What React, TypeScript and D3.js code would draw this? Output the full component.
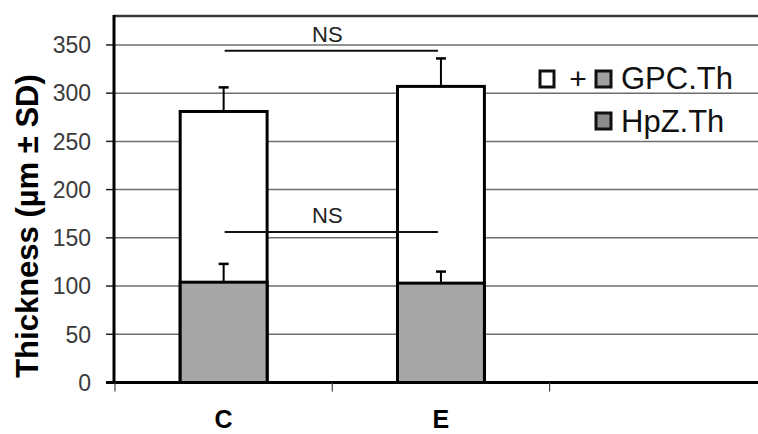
import React from "react";
import * as d3 from "d3";

// chart values
const categories = ["C", "E", ""];
const totalMean = [281, 307]; // white bar: GPC.Th (HpZ + rest)
const totalSD = [25, 29];
const hpzMean = [104, 103];
const hpzSD = [19, 12];
const yTicks = [0, 50, 100, 150, 200, 250, 300, 350];
const nsLevels = [344, 156];
const legendLabels = ["GPC.Th", "HpZ.Th"];

const width = 758;
const height = 434;
const plotLeft = 114;
const plotTop = 16;
const plotBottom = 382.5;

const App = () => {
  const x = d3
    .scaleBand<string>()
    .domain(categories)
    .range([plotLeft + 1, plotLeft + 1 + 217.3 * categories.length]);
  const y = d3.scaleLinear().domain([0, 380]).range([plotBottom, plotTop]);

  const barW = x.bandwidth() * 0.4;
  const cx = (c: string) => (x(c) as number) + x.bandwidth() / 2;
  const used = categories.slice(0, totalMean.length);

  const errBar = (c: string, m: number, sd: number, key: string) => (
    <g key={key} stroke="#000" strokeWidth={2}>
      <line x1={cx(c)} x2={cx(c)} y1={y(m)} y2={y(m + sd)} />
      <line x1={cx(c) - 5} x2={cx(c) + 5} y1={y(m + sd)} y2={y(m + sd)} strokeWidth={2.5} />
    </g>
  );

  const font = "Arial, 'Liberation Sans', sans-serif";

  return (
    <div style={{ position: "absolute", left: 0, top: 0 }}>
      <svg width={width} height={height} style={{ display: "block", background: "#fff" }}>
        {/* gridlines */}
        {yTicks.map((t) =>
          t === 0 ? null : (
            <line key={t} x1={plotLeft} x2={width} y1={y(t)} y2={y(t)} stroke="#6e6e6e" strokeWidth={1.5} />
          )
        )}
        {/* top border */}
        <line x1={plotLeft} x2={width} y1={plotTop} y2={plotTop} stroke="#3a3a3a" strokeWidth={2.5} />

        {/* y ticks and labels */}
        {yTicks.map((t) => (
          <g key={"yt" + t}>
            <line x1={plotLeft - 8} x2={plotLeft} y1={y(t)} y2={y(t)} stroke="#222" strokeWidth={1.5} />
            <text
              x={91}
              y={y(t)}
              dy="0.36em"
              textAnchor="end"
              fontFamily={font}
              fontSize={23}
              fill="#3a3a3a"
            >
              {t}
            </text>
          </g>
        ))}

        {/* bars */}
        {used.map((c, i) => (
          <rect
            key={"tot" + c}
            x={cx(c) - barW / 2}
            width={barW}
            y={y(totalMean[i])}
            height={y(0) - y(totalMean[i])}
            fill="#fff"
            stroke="#000"
            strokeWidth={3}
          />
        ))}
        {used.map((c, i) => (
          <rect
            key={"hpz" + c}
            x={cx(c) - barW / 2}
            width={barW}
            y={y(hpzMean[i])}
            height={y(0) - y(hpzMean[i])}
            fill="#a6a6a6"
            stroke="#000"
            strokeWidth={3}
          />
        ))}
        {used.map((c, i) => errBar(c, totalMean[i], totalSD[i], "et" + c))}
        {used.map((c, i) => errBar(c, hpzMean[i], hpzSD[i], "eh" + c))}

        {/* NS comparisons */}
        {nsLevels.map((v, i) => {
          const x1 = cx(used[0]) + 1;
          const x2 = cx(used[1]) - 3;
          return (
            <g key={"ns" + i}>
              <line x1={x1} x2={x2} y1={y(v)} y2={y(v)} stroke="#111" strokeWidth={2} />
              <text
                x={(x1 + x2) / 2 - 4}
                y={y(v) - 9}
                textAnchor="middle"
                fontFamily={font}
                fontSize={22}
                fill="#222"
              >
                NS
              </text>
            </g>
          );
        })}

        {/* axes */}
        <line x1={plotLeft} x2={plotLeft} y1={plotTop - 1} y2={plotBottom + 1.5} stroke="#000" strokeWidth={3} />
        <line x1={plotLeft - 8} x2={width} y1={plotBottom} y2={plotBottom} stroke="#000" strokeWidth={3} />
        {categories.map((c) => (
          <line
            key={"xt" + c}
            x1={x(c) as number}
            x2={x(c) as number}
            y1={plotBottom}
            y2={plotBottom + 9}
            stroke="#444"
            strokeWidth={1.2}
          />
        ))}
        {used.map((c) => (
          <text
            key={"xl" + c}
            x={cx(c)}
            y={428}
            textAnchor="middle"
            fontFamily={font}
            fontWeight="bold"
            fontSize={25}
            fill="#000"
          >
            {c}
          </text>
        ))}

        {/* y title */}
        <text
          transform={`translate(38, 226) rotate(-90)`}
          textAnchor="middle"
          fontFamily={font}
          fontWeight="bold"
          fontSize={31}
          fill="#000"
        >
          Thickness (µm ± SD)
        </text>

        {/* legend */}
        <g fontFamily={font} fontSize={31} fill="#111">
          <rect x={540} y={71} width={14} height={16} fill="#fff" stroke="#111" strokeWidth={3} />
          <text x={578} y={89} textAnchor="middle" fontSize={30}>
            +
          </text>
          <rect x={596} y={71} width={15} height={16} fill="#a0a0a0" stroke="#111" strokeWidth={3} />
          <text x={621} y={89}>{legendLabels[0]}</text>
          <rect x={596} y={113} width={15} height={16} fill="#8c8c8c" stroke="#111" strokeWidth={3} />
          <text x={621} y={132}>{legendLabels[1]}</text>
        </g>
      </svg>
    </div>
  );
};

export default App;
